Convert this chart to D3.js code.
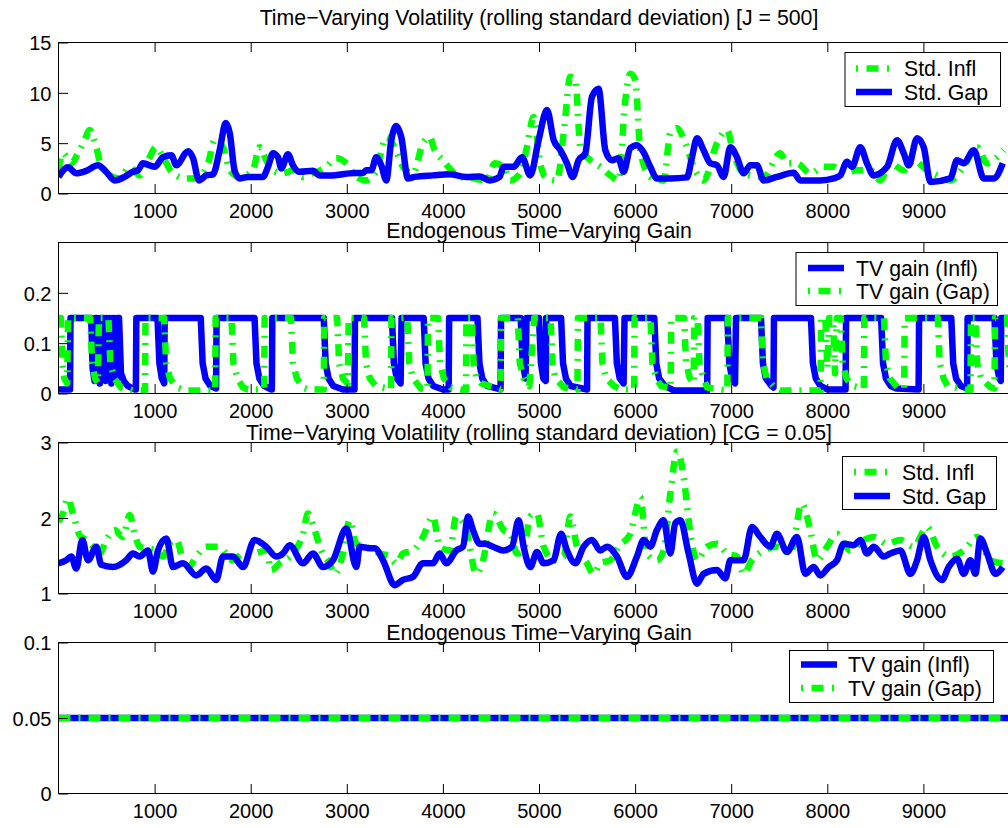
<!DOCTYPE html>
<html><head><meta charset="utf-8">
<script src="https://cdn.jsdelivr.net/npm/d3@7/dist/d3.min.js"></script>
<style>
body{margin:0;background:#fff}
svg{display:block}
text{font-family:"Liberation Sans",Arial,Helvetica,sans-serif;font-size:20px;fill:#000}
text.big{font-size:21.3px}
</style>
</head><body>
<svg id="c" width="1008" height="828"></svg>
<script>
// ---------------- DATA ----------------
const xTicks = [1000,2000,3000,4000,5000,6000,7000,8000,9000];
const xDomain = [0, 10000];

const titles = [
  "Time\u2212Varying Volatility (rolling standard deviation) [J = 500]",
  "Endogenous Time\u2212Varying Gain",
  "Time\u2212Varying Volatility (rolling standard deviation) [CG = 0.05]",
  "Endogenous Time\u2212Varying Gain"
];
const yTicks1 = [0,5,10,15];
const yTicks2 = [0,0.1,0.2];
const yTicks3 = [1,2,3];
const yTicks4 = [0,0.05,0.1];
const legend1 = ["Std. Infl","Std. Gap"];
const legend2 = ["TV gain (Infl)","TV gain (Gap)"];
const legend3 = ["Std. Infl","Std. Gap"];
const legend4 = ["TV gain (Infl)","TV gain (Gap)"];

// Panel 1: rolling std, J = 500
const stdInflJ = [[0,2.3],[46,4.0],[133,3.0],[202,4.0],[272,5.3],[324,6.3],[393,4.6],[445,2.65],[532,1.8],[636,1.5],[740,2.65],[844,1.8],[931,3.3],[1018,4.6],[1087,3.6],[1191,2.0],[1330,1.5],[1434,1.5],[1556,3.0],[1625,5.3],[1712,4.6],[1782,2.3],[1886,1.65],[2022,2.3],[2092,4.6],[2162,3.3],[2232,2.3],[2336,2.0],[2440,2.3],[2544,1.65],[2648,2.0],[2787,2.65],[2891,3.5],[2995,3.0],[3099,1.65],[3203,1.3],[3307,2.3],[3411,5.6],[3498,4.6],[3584,2.65],[3688,2.0],[3792,5.0],[3862,5.6],[3914,4.3],[4001,3.3],[4088,2.3],[4174,1.65],[4313,1.5],[4452,1.3],[4539,3.0],[4631,2.65],[4701,1.3],[4805,2.0],[4874,4.6],[4944,7.6],[5013,3.0],[5065,1.65],[5187,1.3],[5257,6.0],[5326,11.6],[5378,11.3],[5430,4.6],[5534,3.3],[5638,2.65],[5742,1.8],[5828,1.3],[5898,9.3],[5950,11.9],[6002,11.3],[6054,4.3],[6158,1.65],[6297,1.3],[6366,6.0],[6436,6.5],[6523,5.0],[6609,2.65],[6713,1.3],[6852,5.0],[6956,6.3],[7025,4.0],[7129,2.0],[7337,1.65],[7511,4.0],[7580,3.0],[7684,3.0],[7823,2.0],[7962,2.65],[8066,2.65],[8170,2.0],[8309,2.3],[8448,2.3],[8552,1.3],[8656,3.0],[8795,2.3],[8899,3.3],[9038,2.3],[9142,1.8],[9281,1.3],[9420,2.65],[9559,4.6],[9663,3.0],[9767,3.6],[9836,4.3]];
const stdGapJ = [[0,1.65],[100,2.6],[185,2.0],[290,2.25],[410,2.8],[497,2.15],[584,1.3],[688,1.65],[775,2.15],[827,2.3],[879,3.0],[1000,2.65],[1087,3.6],[1174,3.8],[1226,2.8],[1348,4.2],[1400,3.5],[1461,1.3],[1538,1.8],[1608,1.9],[1677,4.3],[1740,7.0],[1782,6.0],[1832,2.3],[1884,1.5],[1971,1.65],[2127,1.65],[2180,2.65],[2232,4.0],[2284,3.6],[2318,2.5],[2388,3.9],[2440,2.8],[2509,2.15],[2648,2.25],[2717,1.8],[2856,1.8],[3030,2.0],[3168,2.05],[3203,2.3],[3255,2.3],[3307,3.6],[3359,2.8],[3411,1.3],[3463,5.3],[3515,6.7],[3567,5.6],[3636,1.5],[3706,1.65],[3897,1.8],[4070,1.9],[4243,1.65],[4382,1.7],[4486,1.3],[4590,1.65],[4632,2.65],[4736,2.65],[4823,3.6],[4909,1.8],[4996,5.3],[5083,8.3],[5153,5.3],[5222,4.3],[5291,3.0],[5350,1.65],[5412,3.3],[5482,4.0],[5551,9.6],[5620,10.4],[5690,4.3],[5759,3.3],[5828,3.5],[5880,2.15],[5950,4.5],[6019,4.8],[6088,4.1],[6158,2.65],[6227,1.5],[6366,1.5],[6540,1.6],[6592,3.6],[6644,5.5],[6713,4.3],[6783,3.0],[6852,2.8],[6921,1.65],[6991,4.6],[7060,3.6],[7129,2.0],[7199,2.8],[7268,2.8],[7337,1.3],[7476,1.65],[7650,2.05],[7719,1.3],[7927,1.3],[8066,1.5],[8135,1.8],[8205,3.15],[8257,2.65],[8344,4.6],[8413,3.0],[8483,1.8],[8622,2.65],[8726,5.3],[8795,4.0],[8847,2.8],[8934,5.5],[9003,4.6],[9073,1.15],[9281,1.5],[9350,3.3],[9420,3.0],[9524,4.3],[9628,1.5],[9732,1.5],[9826,3.0]];

// Panel 2: endogenous time-varying gain
const gainInfl = [[0,0.008],[120,0.008],[125,0.15],[340,0.15],[355,0.05],[375,0.025],[385,0.15],[400,0.15],[415,0.04],[430,0.02],[440,0.15],[455,0.03],[470,0.15],[490,0.025],[500,0.15],[520,0.03],[530,0.15],[550,0.02],[560,0.15],[575,0.03],[585,0.15],[605,0.025],[615,0.15],[630,0.15],[650,0.04],[680,0.025],[720,0.015],[790,0.008],[805,0.008],[810,0.15],[1030,0.15],[1050,0.06],[1075,0.03],[1100,0.02],[1105,0.15],[1480,0.15],[1500,0.06],[1530,0.03],[1580,0.015],[1640,0.01],[1645,0.15],[2040,0.15],[2060,0.06],[2090,0.03],[2140,0.015],[2210,0.008],[2220,0.008],[2225,0.15],[2760,0.15],[2780,0.06],[2810,0.03],[2860,0.015],[2960,0.008],[3080,0.008],[3085,0.15],[3470,0.15],[3490,0.06],[3520,0.03],[3560,0.02],[3570,0.15],[3800,0.15],[3820,0.06],[3850,0.03],[3900,0.015],[4000,0.008],[4060,0.008],[4065,0.15],[4360,0.15],[4380,0.06],[4410,0.03],[4460,0.015],[4600,0.008],[4605,0.15],[4810,0.15],[4830,0.06],[4860,0.03],[4870,0.15],[5000,0.15],[5020,0.06],[5045,0.03],[5070,0.025],[5075,0.15],[5230,0.15],[5250,0.06],[5280,0.03],[5330,0.015],[5500,0.008],[5505,0.15],[5790,0.15],[5810,0.06],[5840,0.03],[5880,0.02],[5890,0.15],[6200,0.15],[6220,0.06],[6250,0.03],[6310,0.015],[6400,0.006],[6750,0.006],[6755,0.15],[6960,0.15],[6980,0.06],[7010,0.03],[7040,0.02],[7050,0.15],[7310,0.15],[7330,0.06],[7360,0.03],[7420,0.015],[7440,0.012],[7445,0.15],[7830,0.15],[7850,0.06],[7880,0.03],[7930,0.015],[8000,0.008],[8190,0.008],[8195,0.15],[8560,0.15],[8580,0.06],[8610,0.03],[8660,0.015],[8720,0.01],[8950,0.008],[8955,0.15],[9290,0.15],[9310,0.06],[9340,0.03],[9390,0.015],[9455,0.01],[9460,0.15],[9740,0.15],[9760,0.06],[9790,0.03],[9805,0.025],[9810,0.15],[10000,0.15]];
const gainGap = [[0,0.15],[25,0.15],[40,0.06],[60,0.03],[90,0.02],[100,0.15],[330,0.15],[350,0.06],[380,0.03],[410,0.02],[420,0.15],[520,0.15],[540,0.06],[580,0.03],[650,0.012],[790,0.006],[900,0.006],[905,0.15],[1100,0.15],[1120,0.06],[1160,0.03],[1230,0.012],[1340,0.006],[1630,0.006],[1635,0.15],[1800,0.15],[1820,0.06],[1860,0.03],[1920,0.012],[1970,0.008],[2140,0.008],[2145,0.15],[2420,0.15],[2440,0.06],[2480,0.03],[2540,0.012],[2600,0.008],[2760,0.008],[2765,0.15],[2900,0.15],[2920,0.06],[2960,0.03],[3010,0.02],[3020,0.15],[3180,0.15],[3200,0.06],[3240,0.03],[3300,0.015],[3460,0.008],[3465,0.15],[3630,0.15],[3650,0.06],[3690,0.03],[3770,0.01],[3840,0.008],[3845,0.15],[3950,0.15],[3970,0.06],[4010,0.03],[4080,0.012],[4240,0.006],[4245,0.15],[4300,0.15],[4320,0.06],[4350,0.03],[4400,0.02],[4600,0.008],[4605,0.15],[4780,0.15],[4800,0.06],[4840,0.03],[4900,0.015],[4950,0.15],[5120,0.15],[5140,0.06],[5170,0.03],[5260,0.012],[5400,0.008],[5405,0.15],[5640,0.15],[5660,0.06],[5700,0.03],[5780,0.015],[5850,0.008],[5990,0.008],[5995,0.15],[6160,0.15],[6180,0.06],[6220,0.03],[6270,0.015],[6370,0.01],[6375,0.15],[6510,0.15],[6530,0.06],[6570,0.03],[6610,0.02],[6615,0.15],[6650,0.15],[6670,0.06],[6710,0.03],[6750,0.012],[6960,0.006],[6965,0.15],[7310,0.15],[7330,0.06],[7370,0.03],[7450,0.012],[7520,0.006],[7930,0.006],[7935,0.15],[7980,0.15],[8000,0.05],[8020,0.15],[8060,0.15],[8080,0.04],[8100,0.15],[8140,0.15],[8160,0.06],[8200,0.03],[8260,0.015],[8380,0.01],[8385,0.15],[8590,0.15],[8610,0.06],[8650,0.03],[8730,0.012],[8800,0.01],[8805,0.15],[9150,0.15],[9170,0.06],[9210,0.03],[9250,0.015],[9490,0.006],[9495,0.15],[9540,0.15],[9560,0.06],[9600,0.03],[9700,0.012],[9740,0.01],[9745,0.15],[9870,0.15],[9890,0.06],[9920,0.03],[10000,0.02]];

// Panel 3: rolling std, CG = 0.05
const stdInflCG = [[0,1.95],[46,2.06],[98,2.26],[150,2.06],[220,1.77],[289,1.71],[359,1.62],[428,1.53],[497,1.71],[584,1.84],[670,1.75],[740,2.04],[792,1.79],[844,1.62],[914,1.6],[1018,1.57],[1087,1.49],[1157,1.66],[1226,1.71],[1330,1.31],[1434,1.49],[1538,1.62],[1660,1.62],[1816,1.44],[1920,1.53],[2022,1.53],[2162,1.57],[2214,1.31],[2301,1.4],[2440,1.53],[2544,1.79],[2596,2.06],[2665,1.84],[2735,1.57],[2821,1.4],[2873,1.26],[2960,1.53],[3030,1.97],[3099,1.66],[3203,1.62],[3342,1.53],[3446,1.49],[3515,1.4],[3584,1.53],[3688,1.57],[3792,1.75],[3897,2.02],[3966,1.62],[4070,1.57],[4139,2.02],[4243,1.84],[4348,1.26],[4417,1.44],[4521,2.06],[4632,1.84],[4701,1.79],[4771,1.53],[4840,1.57],[4909,2.02],[4979,2.06],[5048,1.62],[5152,1.44],[5257,1.49],[5326,2.02],[5395,1.62],[5499,1.4],[5569,1.26],[5638,1.4],[5742,1.44],[5828,1.62],[5950,1.79],[6019,2.15],[6054,2.28],[6123,1.53],[6227,1.44],[6297,1.57],[6366,2.32],[6436,2.88],[6505,2.55],[6557,1.97],[6644,1.44],[6748,1.62],[6852,1.66],[6956,1.53],[7060,1.49],[7129,1.26],[7216,1.44],[7337,1.57],[7476,1.62],[7615,1.53],[7736,2.19],[7823,1.84],[7893,1.44],[7997,1.62],[8101,1.79],[8240,1.57],[8379,1.71],[8483,1.75],[8622,1.66],[8760,1.71],[8899,1.62],[9038,1.88],[9142,1.62],[9281,1.49],[9420,1.57],[9559,1.75],[9697,1.44],[9826,1.4]];
const stdGapCG = [[0,1.4],[81,1.44],[133,1.49],[185,1.33],[248,1.71],[307,1.44],[393,1.62],[445,1.38],[566,1.35],[705,1.44],[775,1.53],[844,1.49],[931,1.57],[983,1.29],[1035,1.57],[1122,1.73],[1191,1.35],[1295,1.4],[1434,1.24],[1538,1.33],[1642,1.18],[1712,1.49],[1816,1.49],[1920,1.35],[2040,1.71],[2162,1.62],[2266,1.49],[2336,1.53],[2405,1.64],[2544,1.4],[2648,1.53],[2752,1.35],[2856,1.44],[2995,1.86],[3099,1.35],[3134,1.62],[3238,1.6],[3290,1.6],[3377,1.44],[3498,1.11],[3584,1.18],[3688,1.22],[3792,1.4],[3897,1.4],[3966,1.53],[4035,1.4],[4139,1.57],[4209,1.62],[4261,2.02],[4313,1.84],[4382,1.66],[4434,1.66],[4521,1.62],[4632,1.57],[4719,1.62],[4788,1.97],[4840,1.62],[4909,1.35],[4979,1.55],[5048,1.4],[5152,1.44],[5229,1.79],[5291,1.57],[5378,1.4],[5465,1.62],[5551,1.71],[5638,1.57],[5707,1.62],[5811,1.49],[5915,1.22],[6019,1.49],[6089,1.71],[6158,1.62],[6227,1.84],[6297,1.97],[6366,1.53],[6418,1.93],[6470,1.97],[6557,1.53],[6644,1.13],[6713,1.26],[6852,1.31],[6939,1.2],[6991,1.44],[7129,1.44],[7216,1.88],[7302,1.75],[7406,1.62],[7476,1.79],[7580,1.55],[7684,1.75],[7771,1.26],[7858,1.35],[7927,1.24],[8014,1.35],[8101,1.44],[8170,1.66],[8275,1.64],[8344,1.71],[8413,1.53],[8483,1.62],[8587,1.49],[8656,1.53],[8760,1.57],[8865,1.26],[8934,1.44],[9003,1.75],[9073,1.44],[9194,1.18],[9263,1.35],[9350,1.46],[9420,1.26],[9489,1.44],[9541,1.26],[9593,1.73],[9663,1.53],[9750,1.26],[9826,1.35]];

// Panel 4: constant gain CG = 0.05
const cgGainInfl = [[0,0.05],[10000,0.05]];
const cgGainGap = [[0,0.05],[10000,0.05]];

// ---------------- DRAWING ----------------
const svg = d3.select("#c");
const L = 58.5, R = 1019.5, H = 151;
const x = d3.scaleLinear().domain(xDomain).range([L, R]);
const BLUE = "#0000ff", GREEN = "#00ff00";
const styles = {
  solid: {color: BLUE, dash: null},
  dashdot: {color: GREEN, dash: "12,8,2,8"}
};

const panels = [
  {top:42.5, yDom:[0,15], yTicks:yTicks1, title:titles[0], titleY:25,
   series:[{d:stdInflJ, s:"dashdot", smooth:true},{d:stdGapJ, s:"solid", smooth:true}],
   legend:{labels:legend1, styles:["dashdot","solid"], box:[845,52.5,1000.5,106.5], rows:[68.5,92], lx:[856,892], tx:904}},
  {top:242.5, yDom:[0,0.3], yTicks:yTicks2, title:titles[1], titleY:238,
   series:[{d:gainInfl, s:"solid", smooth:false},{d:gainGap, s:"dashdot", smooth:false}],
   legend:{labels:legend2, styles:["solid","dashdot"], box:[796,252.5,997.5,305.5], rows:[268,291], lx:[808,844], tx:856}},
  {top:442.5, yDom:[1,3], yTicks:yTicks3, title:titles[2], titleY:439.5,
   series:[{d:stdInflCG, s:"dashdot", smooth:true},{d:stdGapCG, s:"solid", smooth:true}],
   legend:{labels:legend3, styles:["dashdot","solid"], box:[842.5,456.5,996.5,509.5], rows:[472,496], lx:[854,890], tx:902}},
  {top:642.5, yDom:[0,0.1], yTicks:yTicks4, title:titles[3], titleY:639.5,
   series:[{d:cgGainInfl, s:"solid", smooth:false},{d:cgGainGap, s:"dashdot", smooth:false}],
   legend:{labels:legend4, styles:["solid","dashdot"], box:[789.5,650.5,993.5,702.5], rows:[664.5,688], lx:[801,837], tx:848}}
];

panels.forEach((p, i) => {
  const y = d3.scaleLinear().domain(p.yDom).range([p.top + H, p.top]);
  const g = svg.append("g");
  const cid = "clip" + i;
  svg.append("defs").append("clipPath").attr("id", cid)
    .append("rect").attr("x", L).attr("y", p.top).attr("width", R - L).attr("height", H);

  const plot = g.append("g").attr("clip-path", `url(#${cid})`);
  p.series.forEach(se => {
    const st = styles[se.s];
    const line = d3.line().x(d => x(d[0])).y(d => y(d[1]));
    if (se.smooth) line.curve(d3.curveMonotoneX);
    plot.append("path").datum(se.d)
      .attr("d", line)
      .attr("fill", "none")
      .attr("stroke", st.color)
      .attr("stroke-width", 6.5)
      .attr("stroke-linejoin", "round")
      .attr("stroke-dasharray", st.dash);
  });

  // axes
  const bottom = g.append("g").attr("transform", `translate(0,${p.top + H})`)
    .call(d3.axisBottom(x).tickValues(xTicks).tickSize(-9.5).tickPadding(10.5).tickFormat(d3.format("d")));
  const topAx = g.append("g").attr("transform", `translate(0,${p.top})`)
    .call(d3.axisTop(x).tickValues(xTicks).tickSize(-9.5).tickFormat(""));
  const left = g.append("g").attr("transform", `translate(${L},0)`)
    .call(d3.axisLeft(y).tickValues(p.yTicks).tickSize(-9.5).tickPadding(7).tickFormat(d => String(d)));
  const right = g.append("g").attr("transform", `translate(${R},0)`)
    .call(d3.axisRight(y).tickValues(p.yTicks).tickSize(-9.5).tickFormat(""));
  [bottom, topAx, left, right].forEach(a => {
    a.select(".domain").remove();
    a.selectAll("line").attr("stroke", "#000");
    a.selectAll("text").attr("font-size", null).attr("font-family", null).attr("fill", "#000");
  });
  left.selectAll("text").attr("dy", "0.36em");

  g.append("rect").attr("x", L).attr("y", p.top).attr("width", R - L).attr("height", H)
    .attr("fill", "none").attr("stroke", "#000").attr("stroke-width", 1);

  // title
  g.append("text").attr("class", "big").attr("x", (L + R) / 2).attr("y", p.titleY)
    .attr("text-anchor", "middle").text(p.title);

  // legend
  const lg = p.legend;
  g.append("rect").attr("x", lg.box[0]).attr("y", lg.box[1])
    .attr("width", lg.box[2] - lg.box[0]).attr("height", lg.box[3] - lg.box[1])
    .attr("fill", "#fff").attr("stroke", "#000").attr("stroke-width", 1);
  lg.labels.forEach((lab, k) => {
    const st = styles[lg.styles[k]];
    g.append("line").attr("x1", lg.lx[0]).attr("x2", lg.lx[1])
      .attr("y1", lg.rows[k]).attr("y2", lg.rows[k])
      .attr("stroke", st.color).attr("stroke-width", 6.5)
      .attr("stroke-dasharray", st.dash ? "2,8.5,12,8.5" : null);
    g.append("text").attr("class", "big").attr("x", lg.tx).attr("y", lg.rows[k] + 7.5).text(lab);
  });
});
</script>
</body></html>
